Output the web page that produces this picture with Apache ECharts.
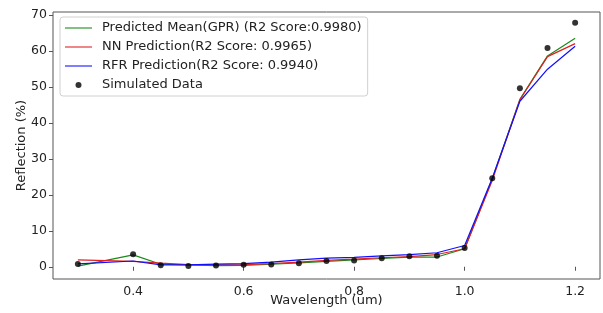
<!DOCTYPE html>
<html>
<head>
<meta charset="utf-8">
<script src="https://cdn.jsdelivr.net/npm/echarts@6/dist/echarts.min.js"></script>
<style>
  html, body { margin: 0; padding: 0; background: #fff; }
  #chart { width: 603px; height: 313px; }
</style>
</head>
<body>
<div id="chart"></div>
<script>
  // wavelength (um), no sample at 0.35
  const wavelength = [0.3, 0.4, 0.45, 0.5, 0.55, 0.6, 0.65, 0.7, 0.75,
    0.8, 0.85, 0.9, 0.95, 1.0, 1.05, 1.1, 1.15, 1.2];
  const simulated = [0.75, 3.5, 0.4, 0.2, 0.35, 0.55, 0.65, 1.0, 1.6,
    1.75, 2.4, 2.9, 3.05, 5.2, 24.6, 49.6, 60.8, 67.8];
  const gprMean = [0.2, 3.3, 0.7, 0.5, 0.3, 0.4, 0.7, 1.1, 1.5,
    1.9, 2.3, 2.7, 2.7, 5.0, 24.5, 46.5, 58.6, 63.5];
  const nnPred = [1.9, 1.5, 1.0, 0.6, 0.5, 0.6, 0.9, 1.3, 1.8,
    2.1, 2.5, 2.8, 3.4, 5.0, 24.0, 46.4, 58.4, 62.0];
  const rfrPred = [0.8, 1.6, 0.55, 0.55, 0.75, 0.9, 1.3, 1.9, 2.4,
    2.6, 3.05, 3.4, 3.9, 5.9, 24.6, 46.0, 54.9, 61.3];
  const xTicks = [0.4, 0.6, 0.8, 1.0, 1.2];
  const yTicks = [0, 10, 20, 30, 40, 50, 60, 70];

  const names = [
    'Predicted Mean(GPR) (R2 Score:0.9980)',
    'NN Prediction(R2 Score: 0.9965)',
    'RFR Prediction(R2 Score: 0.9940)',
    'Simulated Data'
  ];

  const pairs = (ys) => wavelength.map((x, i) => [x, ys[i]]);
  const font = 'DejaVu Sans';
  const axisColor = '#555';
  // thin bar used as the legend line sample
  const lineIcon = 'path://M0,0 L40,0 L40,1.6 L0,1.6 Z';

  const lineSeries = (name, ys, color) => ({
    name,
    type: 'line',
    data: pairs(ys),
    symbol: 'none',
    lineStyle: { color, width: 1.2 },
    itemStyle: { color },
    z: 2
  });

  const myChart = echarts.init(document.getElementById('chart'), null, { renderer: 'canvas' });
  const option = {
    animation: false,
    backgroundColor: '#fff',
    grid: {
      left: 53,
      right: 3,
      top: 12,
      bottom: 34,
      outerBoundsMode: 'none',
      show: true,
      borderColor: axisColor,
      borderWidth: 1
    },
    legend: {
      orient: 'vertical',
      left: 60,
      top: 17,
      padding: [4, 6, 4, 5],
      itemGap: 5,
      itemWidth: 27,
      itemHeight: 6,
      backgroundColor: '#fff',
      borderColor: '#d0d0d0',
      borderWidth: 1,
      borderRadius: 3,
      textStyle: {
        fontFamily: font,
        fontSize: 13,
        color: '#222',
        lineHeight: 14,
        padding: [0, 0, 0, 5]
      },
      data: [
        { name: names[0], icon: lineIcon },
        { name: names[1], icon: lineIcon },
        { name: names[2], icon: lineIcon },
        { name: names[3], icon: 'circle' }
      ]
    },
    xAxis: {
      type: 'value',
      min: 0.255,
      max: 1.245,
      name: 'Wavelength (um)',
      nameLocation: 'middle',
      nameMoveOverlap: false,
      nameGap: 15,
      nameTextStyle: { fontFamily: font, fontSize: 13, color: '#222' },
      axisLine: { show: false },
      splitLine: { show: false },
      axisTick: {
        show: true,
        length: 4,
        customValues: xTicks,
        lineStyle: { color: axisColor }
      },
      axisLabel: {
        customValues: xTicks,
        fontFamily: font,
        fontSize: 12.5,
        color: '#222',
        margin: 6,
        formatter: (v) => v.toFixed(1)
      }
    },
    yAxis: {
      type: 'value',
      min: -3.4,
      max: 70.8,
      name: 'Reflection (%)',
      nameLocation: 'middle',
      nameMoveOverlap: false,
      nameGap: 25,
      nameTextStyle: { fontFamily: font, fontSize: 13, color: '#222' },
      axisLine: { show: false },
      splitLine: { show: false },
      axisTick: {
        show: true,
        length: 4,
        customValues: yTicks,
        lineStyle: { color: axisColor }
      },
      axisLabel: {
        customValues: yTicks,
        fontFamily: font,
        fontSize: 12.5,
        color: '#222',
        margin: 6
      }
    },
    series: [
      lineSeries(names[0], gprMean, '#1a8a1a'),
      lineSeries(names[1], nnPred, '#e02020'),
      lineSeries(names[2], rfrPred, '#1010ff'),
      {
        name: names[3],
        type: 'scatter',
        data: pairs(simulated),
        symbol: 'circle',
        symbolSize: 6,
        itemStyle: { color: '#000' },
        z: 3
      }
    ]
  };
  myChart.setOption(option);
</script>
</body>
</html>
